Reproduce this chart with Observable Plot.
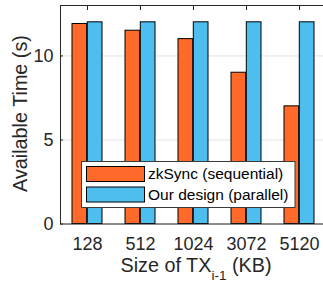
<!DOCTYPE html>
<html>
<head>
<meta charset="utf-8">
<script src="https://cdn.jsdelivr.net/npm/d3@7"></script>
<script src="https://cdn.jsdelivr.net/npm/@observablehq/plot@0.6"></script>
<style>
  html, body { margin: 0; padding: 0; background: #fff; overflow: hidden; }
  #chart svg { display: block; }
</style>
</head>
<body>
<div id="chart"></div>
<script>
const sizes = ["128", "512", "1024", "3072", "5120"];
const series = ["zkSync (sequential)", "Our design (parallel)"];
const zkSync = [11.9, 11.5, 11.0, 9.0, 7.0];
const ourDesign = [12, 12, 12, 12, 12];
const colors = ["#FF6929", "#4DBEEE"];
const yTicks = [0, 5, 10];

const rows = sizes.map((s, i) => ({size: s, zk: zkSync[i], ours: ourDesign[i]}));
const font = "Liberation Sans, Arial, Helvetica, sans-serif";
const axisColor = "#262626";

const plot = Plot.plot({
  width: 323,
  height: 287,
  marginLeft: 60,
  marginRight: -3.7,
  marginTop: 5,
  marginBottom: 63.5,
  style: {fontFamily: font, background: "#fff", color: axisColor},
  x: {type: "band", domain: sizes, paddingInner: 0.426, paddingOuter: 0.213, label: null},
  y: {domain: [0, 13], label: null},
  marks: [
    Plot.gridY(yTicks, {stroke: "#e3e3e3", strokeOpacity: 1}),
    Plot.barY(rows, {x: "size", y: "zk", fill: colors[0], stroke: "#000", strokeWidth: 1, insetRight: 15.3}),
    Plot.barY(rows, {x: "size", y: "ours", fill: colors[1], stroke: "#000", strokeWidth: 1, insetLeft: 15.3}),
    Plot.frame({stroke: axisColor, strokeWidth: 1}),
    Plot.axisX({anchor: "bottom", tickSize: 0, tickPadding: 13.5, fontSize: 18, fill: axisColor, label: null}),
    Plot.axisX({anchor: "bottom", tickSize: -4, tickFormat: () => "", stroke: axisColor, label: null}),
    Plot.axisX({anchor: "top", tickSize: -4, tickFormat: () => "", stroke: axisColor, label: null}),
    Plot.axisY({ticks: yTicks, tickSize: 0, tickPadding: 7, fontSize: 18, fill: axisColor, label: null}),
    Plot.axisY({ticks: yTicks, tickSize: -3, tickFormat: () => "", stroke: axisColor, label: null})
  ]
});

document.getElementById("chart").appendChild(plot);

const svg = d3.select(plot);

// Y axis title
svg.append("text")
  .attr("transform", "translate(27,113.5) rotate(-90)")
  .attr("text-anchor", "middle")
  .attr("font-family", font)
  .attr("font-size", 19.8)
  .attr("fill", axisColor)
  .text("Available Time (s)");

// X axis title with subscript
const xt = svg.append("text")
  .attr("x", 120.5)
  .attr("y", 272)
  .attr("text-anchor", "start")
  .attr("font-family", font)
  .attr("font-size", 19.8)
  .attr("fill", axisColor);
xt.append("tspan").text("Size of TX");
xt.append("tspan").attr("font-size", 13.5).attr("dy", 8).text("i-1");
xt.append("tspan").attr("dy", -8).text(" (KB)");

// Legend
const lg = svg.append("g");
lg.append("rect")
  .attr("x", 81.5).attr("y", 161.5).attr("width", 213.5).attr("height", 46)
  .attr("fill", "#fff").attr("stroke", "#3a3a3a").attr("stroke-width", 1);
series.forEach((name, i) => {
  const cy = 174 + i * 20.5;
  lg.append("rect")
    .attr("x", 86.5).attr("y", cy - 7.5).attr("width", 58).attr("height", 15)
    .attr("fill", colors[i]).attr("stroke", "#000").attr("stroke-width", 1);
  lg.append("text")
    .attr("x", 148).attr("y", cy).attr("dy", "0.35em")
    .attr("text-anchor", "start")
    .attr("font-family", font).attr("font-size", 15.5).attr("fill", "#000")
    .text(name);
});
</script>
</body>
</html>
